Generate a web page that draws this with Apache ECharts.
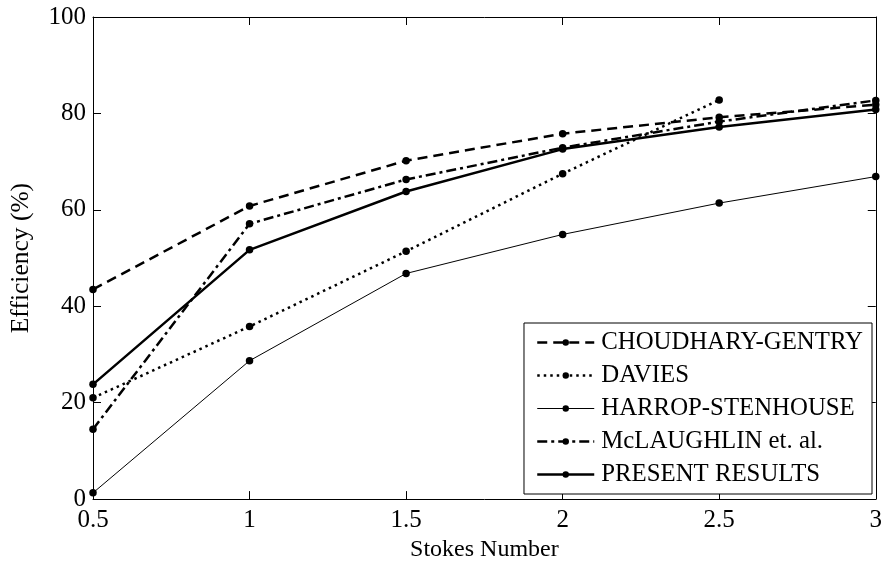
<!DOCTYPE html>
<html><head><meta charset="utf-8">
<script src="https://cdn.jsdelivr.net/npm/echarts@6/dist/echarts.min.js"></script>
<style>html,body{margin:0;padding:0;background:#fff}#c{width:885px;height:567px}</style>
</head><body><div id="c"></div>
<script>
const stokes = [0.5, 1, 1.5, 2, 2.5, 3];
const choudharyGentry = [43.5, 60.8, 70.2, 75.8, 79.2, 81.8];
const davies = [21.0, 35.8, 51.4, 67.5, 82.8];
const harropStenhouse = [1.3, 28.7, 46.8, 54.9, 61.4, 66.9];
const mcLaughlin = [14.5, 57.1, 66.3, 72.9, 78.3, 82.7];
const presentResults = [23.8, 51.7, 63.8, 72.6, 77.2, 80.8];
const names = ['CHOUDHARY-GENTRY', 'DAVIES', 'HARROP-STENHOUSE', 'McLAUGHLIN et. al.', 'PRESENT RESULTS'];

const F = 'Liberation Serif, Times New Roman, serif';
const pair = arr => arr.map((v, i) => [stokes[i], v]);
const widths = [2.5, 2.5, 1, 2.5, 2.5];
const dashes = [[10, 6], [2.5, 4], 'solid', [10, 4, 3, 4], 'solid'];
function mk(i, data) {
  return {
    name: names[i], type: 'line', data: pair(data), symbol: 'circle', symbolSize: 7.5,
    xAxisIndex: 0, yAxisIndex: 0,
    itemStyle: {color: '#000'},
    lineStyle: {color: '#000', width: widths[i], type: dashes[i], cap: 'butt'},
    emphasis: {disabled: true}, animation: false
  };
}
const chart = echarts.init(document.getElementById('c'), null, {renderer: 'canvas'});
const axisCommon = {
  axisLine: {show: true, onZero: false, lineStyle: {color: '#000', width: 1}},
  axisTick: {show: true, inside: true, length: 8, lineStyle: {color: '#000'}},
  splitLine: {show: false}
};
chart.setOption({
  backgroundColor: '#fff',
  animation: false,
  grid: {left: 92, right: 6, top: 17, bottom: 64, containLabel: false},
  xAxis: [
    Object.assign({type: 'value', min: 0.5, max: 3, interval: 0.5, position: 'bottom',
      name: 'Stokes Number', nameLocation: 'middle', nameGap: 34,
      nameTextStyle: {fontFamily: F, fontSize: 24, color: '#000'},
      axisLabel: {fontFamily: F, fontSize: 25, color: '#000', margin: 9}}, axisCommon),
    Object.assign({type: 'value', min: 0.5, max: 3, interval: 0.5, position: 'top',
      axisLabel: {show: false}}, axisCommon)
  ],
  yAxis: [
    Object.assign({type: 'value', min: 0, max: 100, interval: 20, position: 'left',
      name: 'Efficiency (%)', nameLocation: 'middle', nameGap: 59,
      nameTextStyle: {fontFamily: F, fontSize: 25.5, color: '#000'},
      axisLabel: {fontFamily: F, fontSize: 25, color: '#000', margin: 7}}, axisCommon),
    Object.assign({type: 'value', min: 0, max: 100, interval: 20, position: 'right',
      axisLabel: {show: false}}, axisCommon)
  ],
  legend: {
    orient: 'vertical', right: 13, bottom: 73,
    backgroundColor: '#fff', borderColor: '#000', borderWidth: 1,
    padding: [7, 9, 7, 12], itemGap: 8, itemWidth: 57, itemHeight: 8,
    textStyle: {fontFamily: F, fontSize: 24.8, color: '#000', padding: [0, 0, 0, 2]},
    data: names.map((n, i) => ({name: n, lineStyle: {width: widths[i], type: dashes[i], color: '#000'}}))
  },
  series: [
    mk(0, choudharyGentry),
    mk(1, davies),
    mk(2, harropStenhouse),
    mk(3, mcLaughlin),
    mk(4, presentResults)
  ]
});
</script></body></html>
